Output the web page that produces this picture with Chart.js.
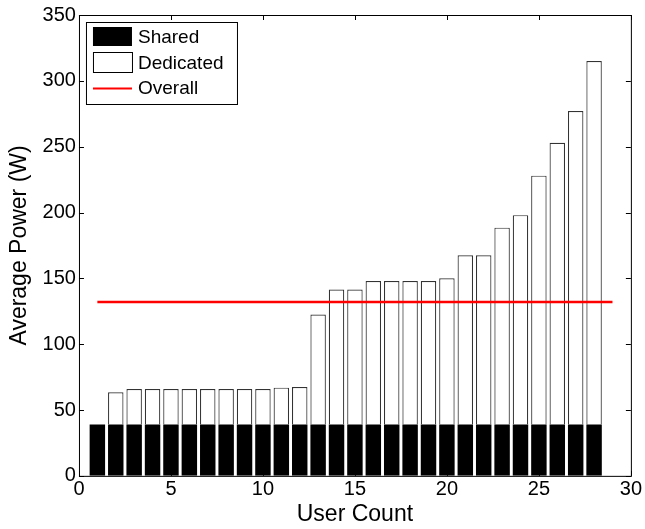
<!DOCTYPE html>
<html>
<head>
<meta charset="utf-8">
<script src="https://cdn.jsdelivr.net/npm/chart.js@4.4.1/dist/chart.umd.min.js"></script>
<style>
  html, body { margin: 0; padding: 0; background: #fff; }
  #wrap { width: 645px; height: 529px; position: relative; }
</style>
</head>
<body>
<div id="wrap"><canvas id="powerChart"></canvas></div>
<script>
// user counts 1..28
const userCounts = [1, 2, 3, 4, 5, 6, 7, 8, 9, 10, 11, 12, 13, 14,
                    15, 16, 17, 18, 19, 20, 21, 22, 23, 24, 25, 26, 27, 28];
// total average power per bar (W)
const totalPower = [39, 63.5, 66, 66, 66, 66, 66, 66, 66, 66, 67, 67.5, 122.5, 141.5,
                    141.5, 148, 148, 148, 148, 150, 167.5, 167.5, 188.5, 198, 228, 253, 277, 315];
const sharedPower = 39;
const overallPower = 132;
const overallRange = [1, 29];
const xTicks = [0, 5, 10, 15, 20, 25, 30];
const yTicks = [0, 50, 100, 150, 200, 250, 300, 350];

const sharedData = userCounts.map(function (u) { return { x: u, y: sharedPower }; });
const dedicatedData = userCounts.map(function (u, i) {
    const d = totalPower[i] - sharedPower;
    return { x: u, y: d > 0 ? d : null };
});
const overallData = overallRange.map(function (u) { return { x: u, y: overallPower }; });

const FONT = '"Liberation Sans", Arial, Helvetica, sans-serif';

// matlab-ish box with inward ticks and the legend in the top-left corner
const matlabFrame = {
    id: 'matlabFrame',
    afterDraw(chart) {
        const ctx = chart.ctx;
        const a = chart.chartArea;
        const xs = chart.scales.x, ys = chart.scales.y;
        ctx.save();
        ctx.strokeStyle = '#000';
        ctx.lineWidth = 1;
        ctx.strokeRect(a.left + 0.5, a.top + 0.5, a.right - a.left, a.bottom - a.top);
        ctx.beginPath();
        xTicks.forEach(function (v) {
            const px = Math.round(xs.getPixelForValue(v)) + 0.5;
            ctx.moveTo(px, a.bottom); ctx.lineTo(px, a.bottom - 5);
            ctx.moveTo(px, a.top); ctx.lineTo(px, a.top + 5);
        });
        yTicks.forEach(function (v) {
            const py = Math.round(ys.getPixelForValue(v)) + 0.5;
            ctx.moveTo(a.left, py); ctx.lineTo(a.left + 5, py);
            ctx.moveTo(a.right, py); ctx.lineTo(a.right - 5, py);
        });
        ctx.stroke();

        // legend
        const lx = a.left + 7, ly = a.top + 7, lw = 151, lh = 82;
        ctx.fillStyle = '#fff';
        ctx.fillRect(lx, ly, lw, lh);
        ctx.strokeRect(lx + 0.5, ly + 0.5, lw, lh);
        ctx.fillStyle = '#000';
        ctx.fillRect(lx + 7, ly + 5, 39, 19);
        ctx.strokeRect(lx + 7.5, ly + 30.5, 39, 20);
        ctx.strokeStyle = '#ff0000';
        ctx.lineWidth = 2;
        ctx.beginPath();
        ctx.moveTo(lx + 7, ly + 66.5); ctx.lineTo(lx + 46, ly + 66.5);
        ctx.stroke();
        ctx.fillStyle = '#000';
        ctx.font = '19px ' + FONT;
        ctx.textBaseline = 'middle';
        ctx.fillText('Shared', lx + 52, ly + 16);
        ctx.fillText('Dedicated', lx + 52, ly + 42);
        ctx.fillText('Overall', lx + 52, ly + 67);
        ctx.restore();
    }
};

new Chart(document.getElementById('powerChart'), {
    type: 'bar',
    data: {
        datasets: [{
            label: 'Shared',
            data: sharedData,
            backgroundColor: '#000',
            borderColor: '#000',
            borderWidth: 0,
            stack: 'power',
            barPercentage: 0.84,
            categoryPercentage: 1.0,
            order: 2
        }, {
            label: 'Dedicated',
            data: dedicatedData,
            backgroundColor: '#fff',
            borderColor: '#333',
            borderWidth: 1.2,
            stack: 'power',
            barPercentage: 0.84,
            categoryPercentage: 1.0,
            order: 2
        }, {
            type: 'line',
            label: 'Overall',
            data: overallData,
            borderColor: '#ff0000',
            borderWidth: 2.5,
            pointRadius: 0,
            stack: 'overall',
            order: 1
        }]
    },
    options: {
        responsive: true,
        maintainAspectRatio: false,
        animation: false,
        layout: { padding: { top: 14, right: 13, left: 6, bottom: 2 } },
        plugins: {
            legend: { display: false },
            tooltip: { enabled: false }
        },
        scales: {
            x: {
                type: 'linear',
                min: 0,
                max: 30,
                offset: false,
                stacked: true,
                grid: { display: false, drawTicks: false, offset: false },
                border: { display: false },
                afterBuildTicks: function (s) { s.ticks = xTicks.map(function (v) { return { value: v }; }); },
                ticks: { color: '#000', font: { family: FONT, size: 20, lineHeight: 1.05 }, padding: 3, maxRotation: 0 },
                title: { display: true, text: 'User Count', color: '#000', font: { family: FONT, size: 23, lineHeight: 1.05 }, padding: { top: 0, bottom: 0 } }
            },
            y: {
                min: 0,
                max: 350,
                stacked: true,
                grid: { display: false, drawTicks: false },
                border: { display: false },
                afterBuildTicks: function (s) { s.ticks = yTicks.map(function (v) { return { value: v }; }); },
                ticks: { color: '#000', font: { family: FONT, size: 20 }, padding: 3 },
                title: { display: true, text: 'Average Power (W)', color: '#000', font: { family: FONT, size: 23 }, padding: { top: 0, bottom: 6 } }
            }
        }
    },
    plugins: [matlabFrame]
});
</script>
</body>
</html>
